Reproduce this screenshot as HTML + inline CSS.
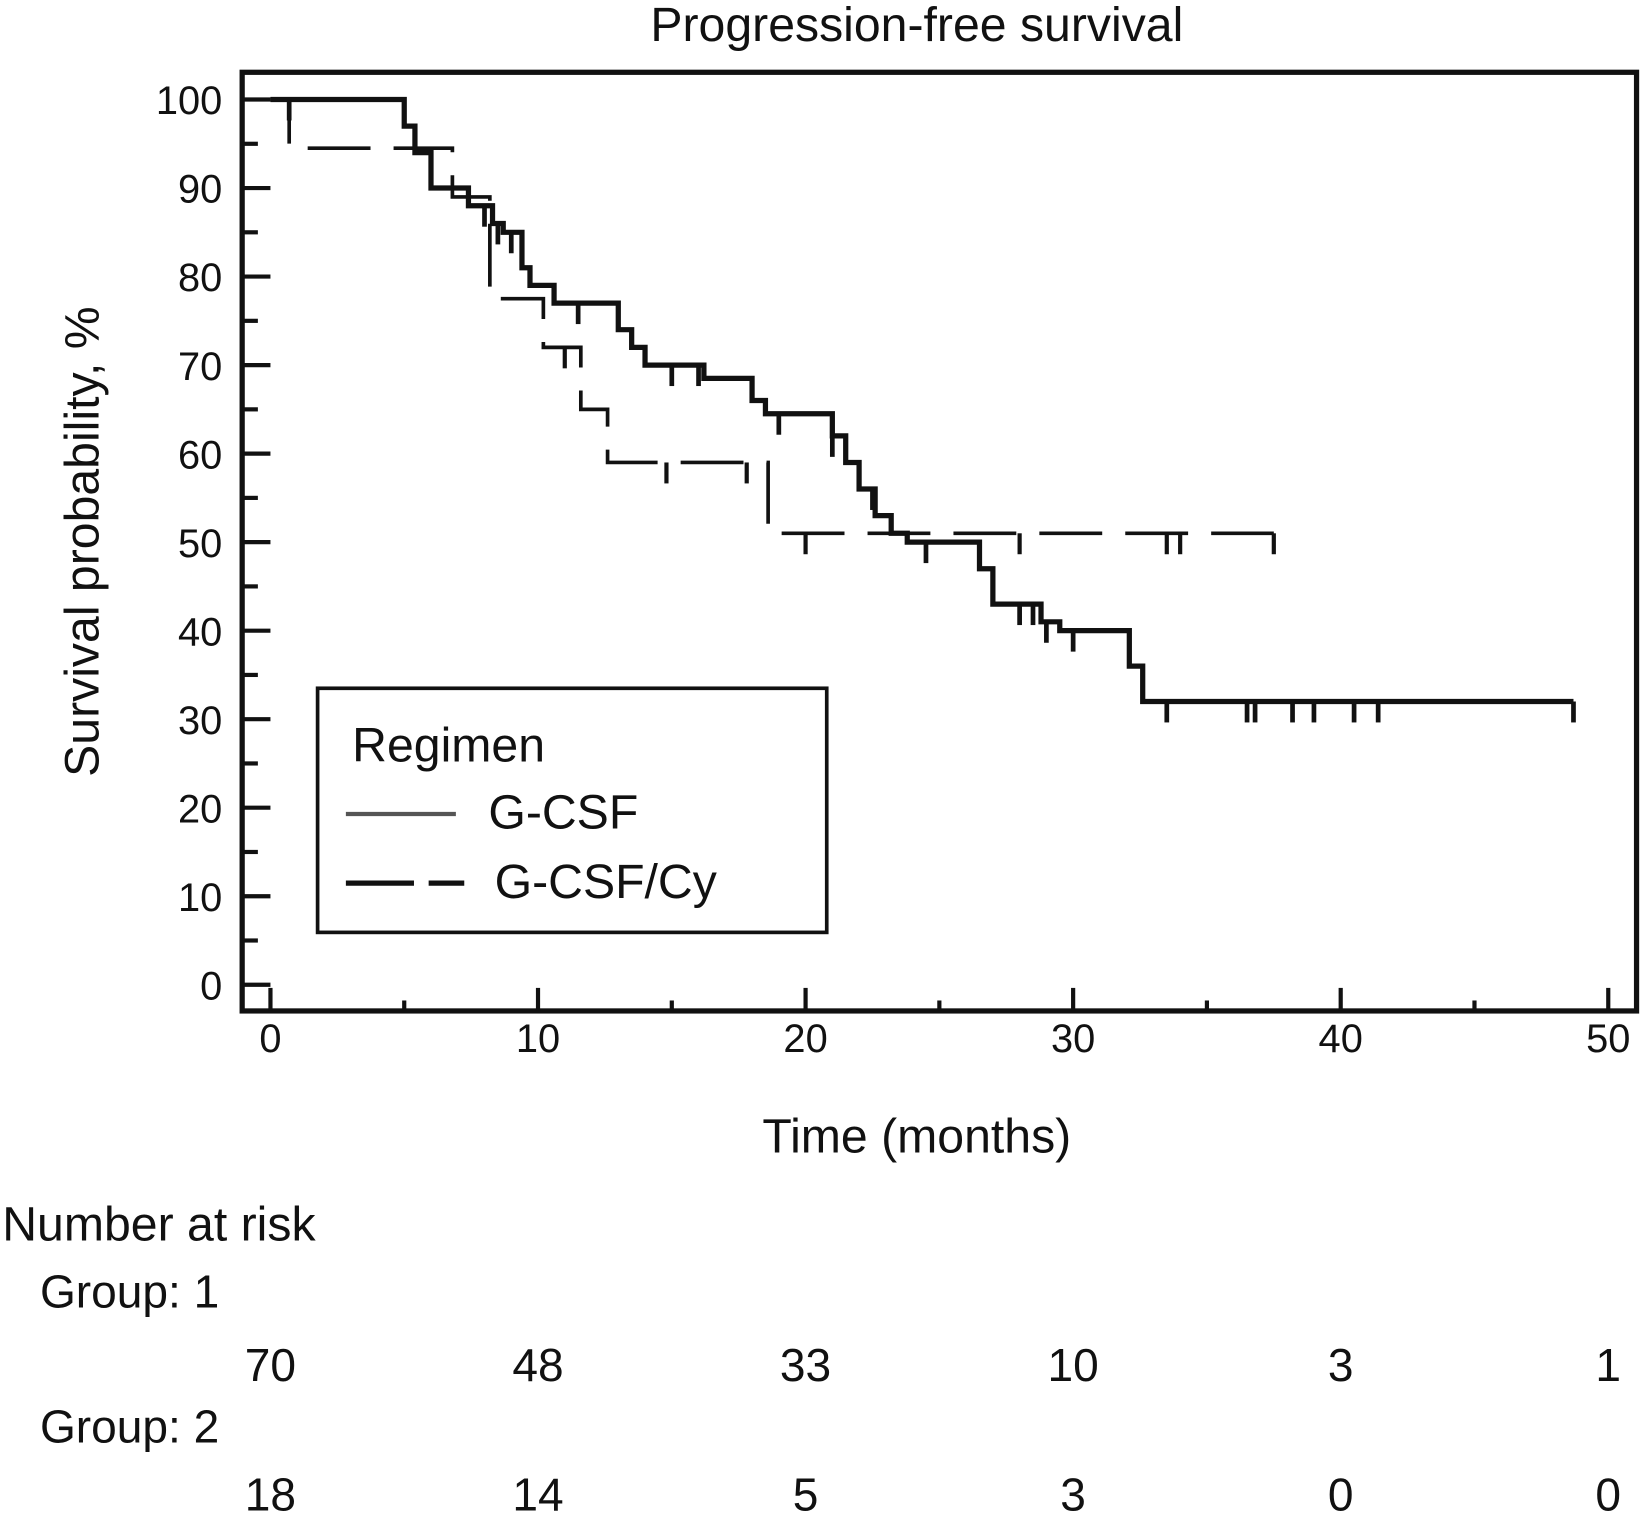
<!DOCTYPE html>
<html><head><meta charset="utf-8"><style>
html,body{margin:0;padding:0;background:#fff}
svg{display:block}
text{font-family:"Liberation Sans",sans-serif;fill:#111}
</style></head><body>
<svg id="chart" width="1643" height="1518" viewBox="0 0 1568 1449" xmlns="http://www.w3.org/2000/svg">
<text x="875" y="39" font-size="46" text-anchor="middle">Progression-free survival</text>
<rect x="231" y="69" width="1331" height="896" fill="none" stroke="#111" stroke-width="5"/>
<g id="axes"></g>
<g id="series"></g>
<text transform="translate(94,517) rotate(-90)" font-size="46" text-anchor="middle">Survival probability, %</text>
<text x="875" y="1100" font-size="46" text-anchor="middle">Time (months)</text>
<g>
<rect x="303" y="657" width="486" height="233" fill="#fff" stroke="#111" stroke-width="3.5"/>
<text x="336" y="727" font-size="46">Regimen</text>
<line x1="330" y1="777" x2="435" y2="777" stroke="#555" stroke-width="4"/>
<text x="466" y="791" font-size="46">G-CSF</text>
<line x1="330" y1="843" x2="443" y2="843" stroke="#111" stroke-width="5" stroke-dasharray="65,14,34,0"/>
<text x="472" y="857" font-size="46">G-CSF/Cy</text>
</g>
<g font-size="44">
<text x="2" y="1184" font-size="46">Number at risk</text>
<text x="38" y="1248" font-size="44">Group: 1</text>
<text x="38" y="1377" font-size="44">Group: 2</text>
<g id="risk"></g>
</g>
</svg>
<script>
const xTicks=[0,10,20,30,40,50];
const yTicks=[0,10,20,30,40,50,60,70,80,90,100];
const riskG1=[70,48,33,10,3,1];
const riskG2=[18,14,5,3,0,0];
const solidT=[0,4.6,5,5.4,6,7.4,8.3,8.7,9.4,9.7,10.6,13,13.5,14,16.2,18,18.5,21,21.5,22,22.6,23.2,23.8,25.6,26.5,27,28.8,29.5,32.1,32.6,48.7];
const solidS=[100,100,97,94,90,88,86,85,81,79,77,74,72,70,68.5,66,64.5,62,59,56,53,51,50,50,47,43,41,40,36,32,32];
const solidCens=[0.7,8,8.5,9,11.5,15,16,19,21,22.5,24.5,28,28.5,29,30,33.5,36.5,36.8,38.2,39,40.5,41.4,48.7];
const dashT=[0,0.7,6.8,8.2,10.2,11.6,12.6,18.6,37.5];
const dashS=[100,94.5,89,77.5,72,65,59,51,51];
const dashCens=[11,14.8,17.8,20,28,33.5,34,37.5];
const X=t=>258+t*25.54, Y=s=>940-s*8.45;
const NS='http://www.w3.org/2000/svg';
function mk(tag,attrs,parent){const e=document.createElementNS(NS,tag);for(const k in attrs)e.setAttribute(k,attrs[k]);parent.appendChild(e);return e;}
const axes=document.getElementById('axes');
yTicks.forEach(v=>{
 const l=mk('line',{x1:231,x2:258,y1:Y(v),y2:Y(v),stroke:'#111','stroke-width':4},axes);
 
 
 if(v<100){const m=mk('line',{x1:231,x2:246,y1:Y(v+5),y2:Y(v+5),stroke:'#111','stroke-width':4},axes);
 
 }
 const t=mk('text',{x:212,y:Y(v)+14,'font-size':38,'text-anchor':'end'},axes);t.textContent=v;
 
 
});
xTicks.forEach((v,i)=>{
 const l=mk('line',{x1:X(v),x2:X(v),y1:965,y2:943,stroke:'#111','stroke-width':4},axes);
 
 
 if(v<50){const m=mk('line',{x1:X(v+5),x2:X(v+5),y1:965,y2:955,stroke:'#111','stroke-width':4},axes);
 
 }
 const t=mk('text',{x:X(v),y:1004,'font-size':38,'text-anchor':'middle'},axes);t.textContent=v;
 
 
 const r1=mk('text',{x:X(v),y:1318,'text-anchor':'middle','font-size':44},document.getElementById('risk'));r1.textContent=riskG1[i];
 
 
 const r2=mk('text',{x:X(v),y:1442,'text-anchor':'middle','font-size':44},document.getElementById('risk'));r2.textContent=riskG2[i];
 
 
});
function stepPath(T,S){let d='M'+X(T[0])+','+Y(S[0]);for(let i=1;i<T.length;i++){d+=' L'+X(T[i])+','+Y(S[i-1])+' L'+X(T[i])+','+Y(S[i]);}return d;}
function valAt(T,S,t){let v=S[0];for(let i=0;i<T.length;i++)if(T[i]<=t)v=S[i];return v;}
const ser=document.getElementById('series');
const dp=mk('path',{d:stepPath(dashT,dashS),fill:'none',stroke:'#111','stroke-width':3.5,'stroke-dasharray':'60,22'},ser);


const sp=mk('path',{d:stepPath(solidT,solidS),fill:'none',stroke:'#111','stroke-width':5},ser);


solidCens.forEach(t=>{const y=Y(valAt(solidT,solidS,t));const c=mk('line',{x1:X(t),x2:X(t),y1:y,y2:y+20,stroke:'#111','stroke-width':4.5},ser);
 
 });
dashCens.forEach(t=>{const y=Y(valAt(dashT,dashS,t));const c=mk('line',{x1:X(t),x2:X(t),y1:y,y2:y+20,stroke:'#111','stroke-width':4},ser);
 
 });
</script>
</body></html>
